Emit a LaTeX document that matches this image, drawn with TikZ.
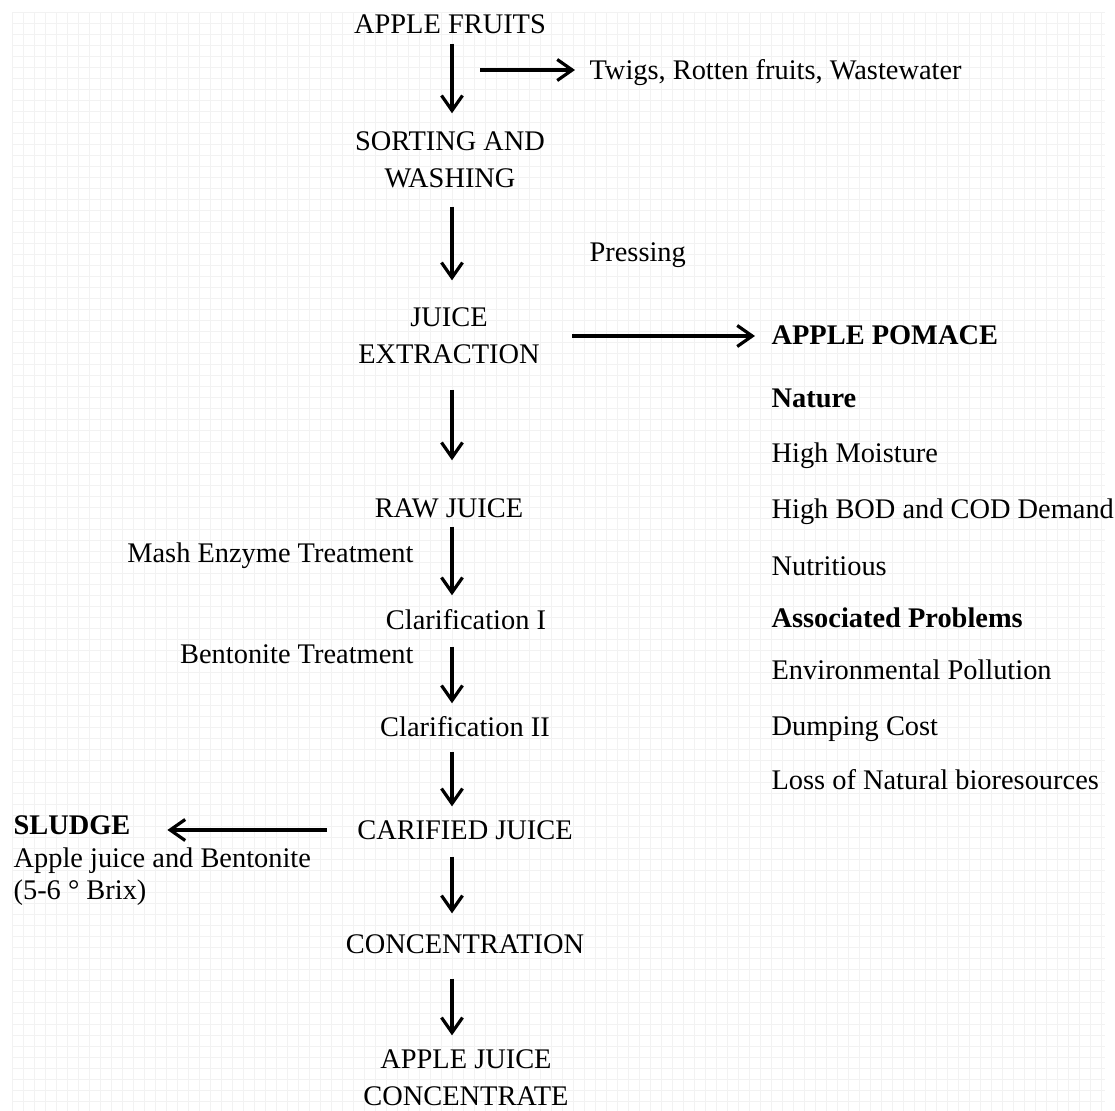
\documentclass[tikz,border=0pt]{standalone}
\usepackage{fontspec}
\setmainfont{Liberation Serif}
\usetikzlibrary{arrows.meta,calc}

\begin{document}
\begin{tikzpicture}[x=0.5pt, y=-0.5pt, line width=1.6pt,
		flow/.style={-{Straight Barb[length=7.5pt,width=10.5pt]}},
		stage/.style={inner sep=0pt, align=center, font=\fontsize{14.2}{18.5}\selectfont},
		note/.style={inner sep=0pt, anchor=base west, font=\fontsize{14.2}{18.5}\selectfont},
		head/.style={note, font=\fontsize{14.2}{18.5}\selectfont\bfseries},
		gridline/.style={line width=0.3pt, color=black!5}]
		\useasboundingbox (0, 0) rectangle (1115, 1111);
		\foreach \g in {12,23,...,1111} {
			\draw[gridline] (\g, 12) -- (\g, 1111);
			\draw[gridline] (12, \g) -- (1105, \g);
		}

		\coordinate (spine) at (452, 0);
		\node[stage] (fruits) at (450, 24) {APPLE FRUITS};
		\node[stage] (sorting) at (450, 160) {SORTING AND\\WASHING};
		\node[stage] (extraction) at (449, 336) {JUICE\\EXTRACTION};
		\node[stage] (raw) at (449, 508) {RAW JUICE};
		\node[stage] (clar1) at (466, 620) {Clarification I};
		\node[stage] (clar2) at (465, 727) {Clarification II};
		\node[stage] (clarified) at (465, 830) {CARIFIED JUICE};
		\node[stage] (conc) at (465, 944) {CONCENTRATION};
		\node[stage] (ajc) at (466, 1078) {APPLE JUICE\\CONCENTRATE};

		\draw[flow, shorten <=4.25pt, shorten >=8.5pt] (fruits.south -| spine) -- (sorting.north -| spine);
		\draw[flow, shorten <=8.5pt, shorten >=13pt] (sorting.south -| spine) -- (extraction.north -| spine);
		\draw[flow, shorten <=12pt, shorten >=18.25pt] (extraction.south -| spine) -- (raw.north -| spine);
		\draw[flow, shorten <=3.75pt, shorten >=6.5pt] (raw.south -| spine) -- (clar1.north -| spine);
		\draw[flow, shorten <=7.5pt, shorten >=6pt] (clar1.south -| spine) -- (clar2.north -| spine);
		\draw[flow, shorten <=6.5pt, shorten >=6.25pt] (clar2.south -| spine) -- (clarified.north -| spine);
		\draw[flow, shorten <=7.75pt, shorten >=9.75pt] (clarified.south -| spine) -- (conc.north -| spine);
		\draw[flow, shorten <=11.75pt, shorten >=6.5pt] (conc.south -| spine) -- (ajc.north -| spine);

		\node[note] (waste) at (588, 80) {Twigs, Rotten fruits, Wastewater};
		\coordinate (wstart) at (480, 70);
		\draw[flow, shorten >=6.5pt] (wstart) -- (wstart -| waste.west);
		\node[note] (pressing) at (588, 262) {Pressing};

		\node[note, anchor=base east] (mash) at (415, 563) {Mash Enzyme Treatment};
		\node[note, anchor=base east] (bento) at (415, 664) {Bentonite Treatment};

		\node[head] (pomace) at (770, 345) {APPLE POMACE};
		\draw[flow, shorten <=15.5pt, shorten >=7.5pt] (extraction.east) -- (extraction.east -| pomace.west);
		\node[head] (nature) at (770, 408) {Nature};
		\node[note] (moist) at (770, 463) {High Moisture};
		\node[note] (bod) at (770, 519) {High BOD and COD Demand};
		\node[note] (nutri) at (770, 576) {Nutritious};
		\node[head] (assoc) at (770, 628) {Associated Problems};
		\node[note] (env) at (770, 680) {Environmental Pollution};
		\node[note] (dump) at (770, 736) {Dumping Cost};
		\node[note] (loss) at (770, 790) {Loss of Natural bioresources};

		\node[head] (sludge) at (12, 835) {SLUDGE};
		\node[note] (sludgea) at (12, 868) {Apple juice and Bentonite};
		\node[note] (sludgeb) at (12, 900) {(5-6 ° Brix)};
		\draw[flow, shorten <=14.25pt, shorten >=17.7pt] (clarified.west) -- (clarified.west -| sludge.east);
	\end{tikzpicture}
\end{document}
